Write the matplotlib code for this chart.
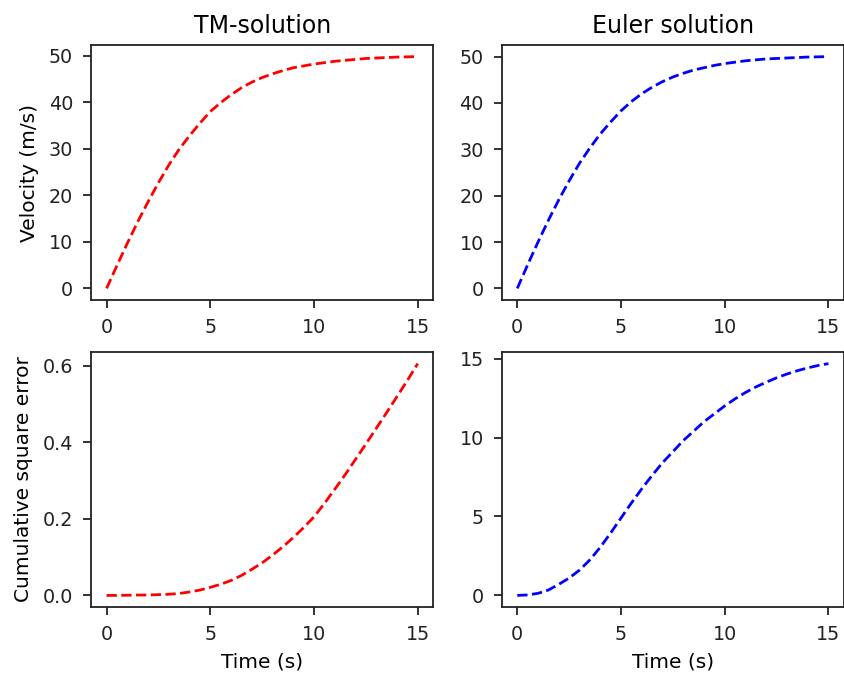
"""Falling body with drag: TM scheme vs explicit Euler, velocity and
cumulative square error against time, in a 2x2 grid."""

import matplotlib

matplotlib.use("Agg")
import matplotlib.pyplot as plt

# sample times (s)
time_s = [
    0.0, 0.5, 1.0, 1.5, 2.0, 2.5, 3.0, 3.5, 4.0, 4.5, 5.0, 5.5, 6.0, 6.5, 7.0,
    7.5, 8.0, 8.5, 9.0, 9.5, 10.0, 10.5, 11.0, 11.5, 12.0, 12.5, 13.0, 13.5,
    14.0, 14.5, 15.0,
]

# velocity (m/s)
tm_velocity = [
    0.0, 4.9, 9.7, 14.3, 18.6, 22.7, 26.5, 29.9, 32.8, 35.5, 38.0, 39.9, 41.6,
    43.1, 44.3, 45.3, 46.1, 46.8, 47.4, 47.8, 48.2, 48.5, 48.8, 49.0, 49.2,
    49.4, 49.5, 49.6, 49.7, 49.75, 49.8,
]
euler_velocity = [
    0.0, 5.1, 10.0, 14.7, 19.1, 23.2, 27.0, 30.3, 33.3, 35.9, 38.3, 40.3, 42.0,
    43.4, 44.6, 45.6, 46.4, 47.1, 47.6, 48.1, 48.5, 48.8, 49.1, 49.3, 49.5,
    49.6, 49.7, 49.8, 49.9, 49.95, 50.0,
]

# running sum of squared velocity error
tm_error = [
    0.0, 0.0, 0.0005, 0.001, 0.001, 0.002, 0.003, 0.005, 0.009, 0.014, 0.021,
    0.029, 0.039, 0.052, 0.068, 0.085, 0.105, 0.127, 0.151, 0.177, 0.205,
    0.24, 0.277, 0.315, 0.355, 0.395, 0.436, 0.477, 0.519, 0.561, 0.605,
]
euler_error = [
    0.0, 0.03, 0.13, 0.34, 0.7, 1.1, 1.6, 2.25, 3.05, 3.95, 4.9, 5.85, 6.75,
    7.6, 8.4, 9.1, 9.8, 10.4, 11.0, 11.5, 12.0, 12.45, 12.85, 13.2, 13.5,
    13.78, 14.02, 14.23, 14.41, 14.56, 14.68,
]

plt.rcParams["font.family"] = "DejaVu Sans"
plt.rcParams["xtick.labelsize"] = 13.8
plt.rcParams["ytick.labelsize"] = 13.8
plt.rcParams["axes.labelsize"] = 14.5
plt.rcParams["axes.titlesize"] = 17
plt.rcParams["axes.titlepad"] = 9
plt.rcParams["xtick.major.size"] = 6
plt.rcParams["ytick.major.size"] = 6
plt.rcParams["xtick.major.pad"] = 7
plt.rcParams["ytick.major.pad"] = 7

fig, axes = plt.subplots(2, 2, figsize=(8.45, 6.77), dpi=100)
fig.subplots_adjust(
    left=0.1077, right=0.9988, top=0.9335, bottom=0.1034, wspace=0.2, hspace=0.204
)

(ax_tm_v, ax_eu_v), (ax_tm_e, ax_eu_e) = axes

ax_tm_v.plot(time_s, tm_velocity, "r--", linewidth=2)
ax_tm_v.set_title("TM-solution")
ax_tm_v.set_ylabel("Velocity (m/s)", labelpad=7)

ax_eu_v.plot(time_s, euler_velocity, "b--", linewidth=2)
ax_eu_v.set_title("Euler solution")

ax_tm_e.plot(time_s, tm_error, "r--", linewidth=2)
ax_tm_e.set_ylabel("Cumulative square error", labelpad=7)
ax_tm_e.set_xlabel("Time (s)", labelpad=6)
ax_tm_e.set_yticks([0.0, 0.2, 0.4, 0.6])

ax_eu_e.plot(time_s, euler_error, "b--", linewidth=2)
ax_eu_e.set_xlabel("Time (s)", labelpad=6)
ax_eu_e.set_yticks([0, 5, 10, 15])

for ax in axes.flat:
    ax.set_xticks([0, 5, 10, 15])
    for side in ax.spines.values():
        side.set_linewidth(1.3)
        side.set_edgecolor("#222222")
    ax.tick_params(width=1.3, color="#222222", labelcolor="#222222")

fig.savefig("out.png", dpi=100)
